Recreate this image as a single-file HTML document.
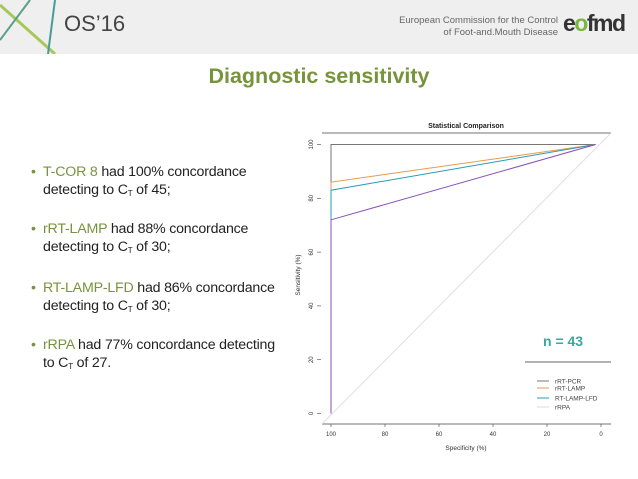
<!DOCTYPE html>
<html><head><meta charset="utf-8"><style>
body{margin:0;width:638px;height:479px;overflow:hidden;background:#fff;font-family:"Liberation Sans",sans-serif;position:relative}
.abs{position:absolute}
.bul{position:absolute;left:43px;font-size:14.2px;color:#222;line-height:18px;letter-spacing:-0.2px}
.bul span.k{color:#77933c}
.dot{position:absolute;left:-12px;top:0;color:#77933c}
sub{font-size:8px;vertical-align:-2px}
</style></head><body>
<div class="abs" style="left:0;top:0;width:638px;height:54px;background:#efefef"></div>
<svg class="abs" style="left:0;top:0" width="80" height="54">
<line x1="0" y1="5" x2="55" y2="54" stroke="#a6c85a" stroke-width="3"/>
<line x1="30" y1="0" x2="0" y2="40" stroke="#5aa08a" stroke-width="2"/>
<line x1="55" y1="0" x2="48" y2="54" stroke="#4a9a96" stroke-width="2"/>
</svg>
<div class="abs" style="left:64px;top:11px;font-size:22px;color:#444">OS’16</div>
<div class="abs" style="right:80px;top:15px;font-size:9.5px;color:#666;text-align:right;line-height:12px">European Commission for the Control<br>of Foot-and.Mouth Disease</div>
<div class="abs" style="left:563px;top:10px;font-size:23px;font-weight:bold;color:#333;letter-spacing:-1.5px">e<span style="color:#7ab640">o</span>fmd</div>
<div class="abs" style="left:0;width:638px;top:64px;text-align:center;font-size:21.5px;font-weight:bold;color:#77933c">Diagnostic sensitivity</div>

<div class="bul" style="top:163px"><span class="dot">•</span><span class="k">T-COR 8</span> had 100% concordance<br>detecting to C<sub>T</sub> of 45;</div>
<div class="bul" style="top:220px"><span class="dot">•</span><span class="k">rRT-LAMP</span> had 88% concordance<br>detecting to C<sub>T</sub> of 30;</div>
<div class="bul" style="top:279px"><span class="dot">•</span><span class="k">RT-LAMP-LFD</span> had 86% concordance<br>detecting to C<sub>T</sub> of 30;</div>
<div class="bul" style="top:336px"><span class="dot">•</span><span class="k">rRPA</span> had 77% concordance detecting<br>to C<sub>T</sub> of 27.</div>

<svg id="chart" class="abs" style="left:0;top:0" width="638" height="479"></svg>
<div class="abs" style="left:543px;top:333px;font-size:14px;font-weight:bold;color:#3aa8a0">n = 43</div>
<script>
const ticks=[100,80,60,40,20,0];
const series=["rRT-PCR","rRT-LAMP","RT-LAMP-LFD","rRPA"];
const colors=["#777777","#e69a50","#2a9bb5","#8a4fb8"];
const sensAt100=[100,86,83,72];
const endSpec=[2,2,2,2];
const legendColors=["#777777","#e69a50","#2a9bb5","#dddddd"];
const NS="http://www.w3.org/2000/svg";
const svg=document.getElementById('chart');
const X=v=>331+(100-v)*2.7, Y=v=>413.5-v*2.69;
function el(t,a){const e=document.createElementNS(NS,t);for(const k in a)e.setAttribute(k,a[k]);svg.appendChild(e);return e;}
let e;
e=el('line',{x1:322,y1:133,x2:611,y2:133,stroke:'#444','stroke-width':0.8});


e=el('line',{x1:322,y1:424,x2:611,y2:424,stroke:'#444','stroke-width':0.8});


e=el('text',{x:466,y:128,'font-size':7,'font-weight':'bold','text-anchor':'middle',fill:'#222'});e.textContent='Statistical Comparison';


e=el('line',{x1:322,y1:424,x2:611,y2:133,stroke:'#e4dce4','stroke-width':1});


ticks.forEach(t=>{
 e=el('line',{x1:X(t),y1:424,x2:X(t),y2:427,stroke:'#444','stroke-width':0.6});
 
 
 e=el('text',{x:X(t),y:436,'font-size':6,'text-anchor':'middle',fill:'#333'});e.textContent=t;
 
 
 e=el('line',{x1:317,y1:Y(t),x2:321,y2:Y(t),stroke:'#444','stroke-width':0.6});
 
 
 e=el('text',{x:0,y:0,'font-size':6,'text-anchor':'middle',fill:'#333',transform:`translate(313,${Y(t)}) rotate(-90)`});e.textContent=t;
 
 
});
e=el('text',{x:466,y:450,'font-size':6.5,'text-anchor':'middle',fill:'#333'});e.textContent='Specificity (%)';


e=el('text',{x:0,y:0,'font-size':6.5,'text-anchor':'middle',fill:'#333',transform:'translate(300,275) rotate(-90)'});e.textContent='Sensitivity (%)';


for(let i=0;i<series.length;i++){
 e=el('polyline',{points:`${X(100)},${Y(0)} ${X(100)},${Y(sensAt100[i])} ${X(endSpec[i])},${Y(100)}`,fill:'none',stroke:colors[i],'stroke-width':1});
 
 
}
e=el('line',{x1:525,y1:362,x2:611,y2:362,stroke:'#333','stroke-width':0.8});


const ly=[381,388,398,407];
series.forEach((s,i)=>{
 e=el('line',{x1:537,y1:ly[i],x2:549,y2:ly[i],stroke:legendColors[i],'stroke-width':1});
 
 
 e=el('text',{x:555,y:ly[i]+2.5,'font-size':6.5,fill:'#444'});e.textContent=s;
 
 
});
</script>
</body></html>
